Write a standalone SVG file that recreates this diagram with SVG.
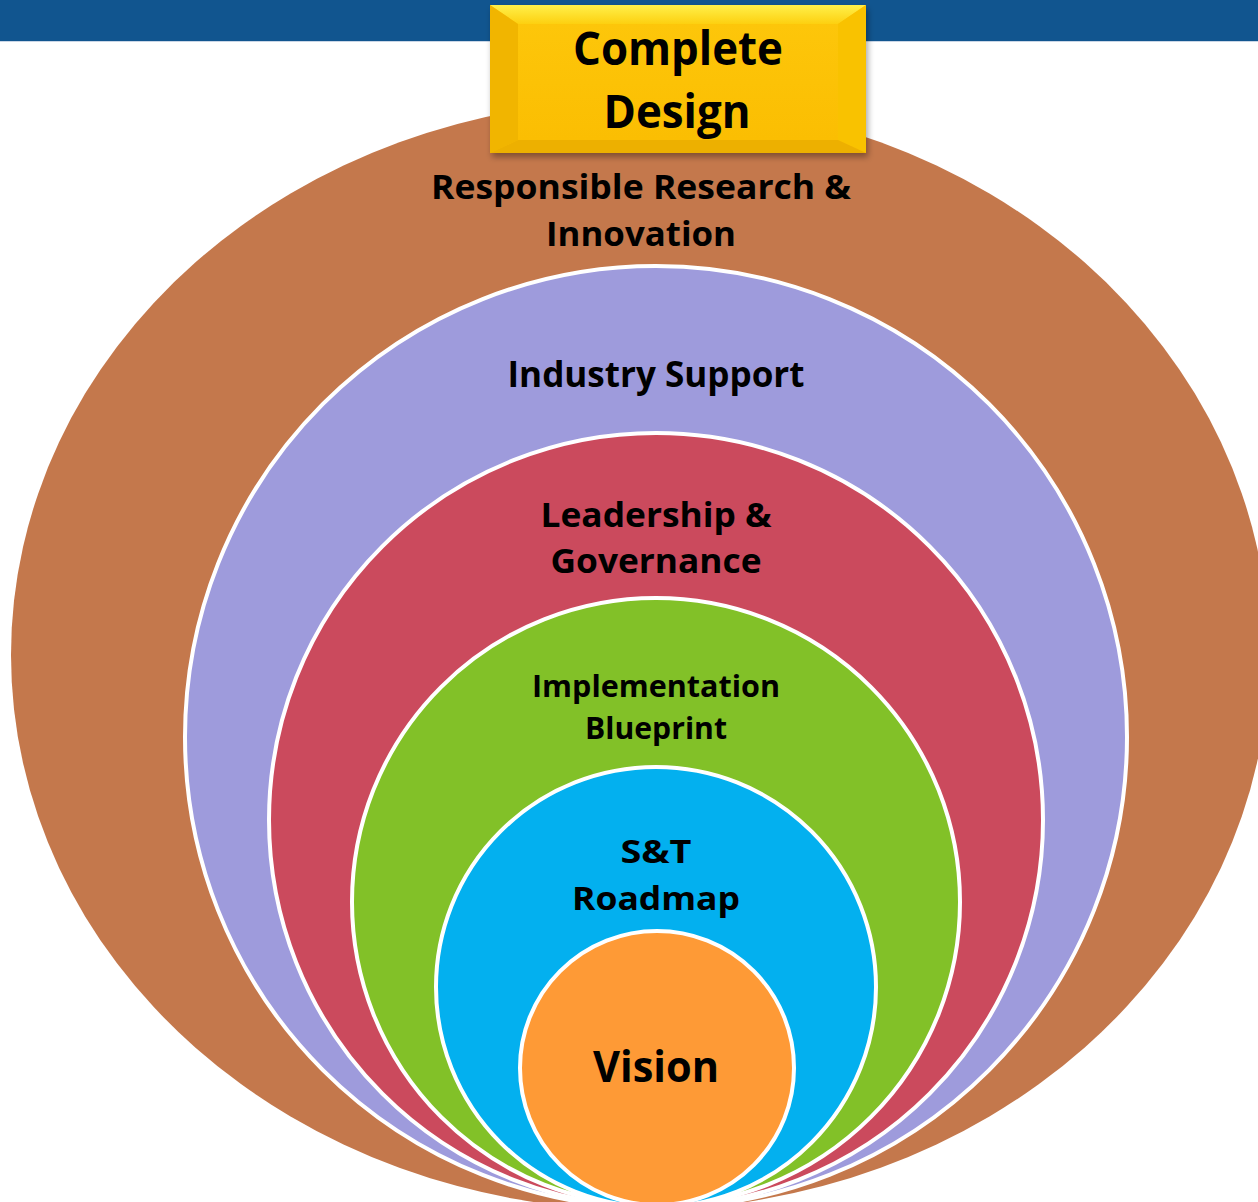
<svg xmlns="http://www.w3.org/2000/svg" width="1258" height="1202" viewBox="0 0 1258 1202">
  <defs>
    <style>
      .lbl { font-family: "Open Sans", "Noto Sans", "Liberation Sans", sans-serif; font-weight: 700; fill: #000; text-anchor: middle; }
      .ring { stroke: #ffffff; stroke-width: 4; }
    </style>
    <filter id="shadow" x="-10%" y="-10%" width="125%" height="130%">
      <feDropShadow dx="2" dy="4" stdDeviation="3" flood-color="#000" flood-opacity="0.35"/>
    </filter>
    <linearGradient id="topBevel" x1="0" y1="0" x2="0" y2="1">
      <stop offset="0" stop-color="#FFF04A"/>
      <stop offset="1" stop-color="#FDD010"/>
    </linearGradient>
    <linearGradient id="face" x1="0" y1="0" x2="0" y2="1">
      <stop offset="0" stop-color="#FDC60A"/>
      <stop offset="1" stop-color="#FBBE02"/>
    </linearGradient>
  </defs>

  <rect x="0" y="0" width="1258" height="1202" fill="#ffffff"/>
  <g id="header-bar">
    <rect x="0" y="0" width="1258" height="41" fill="#11558F"/>
    <rect x="0" y="41" width="1258" height="1" fill="#C9D6E6"/>
  </g>

  <g id="node-rri">
    <ellipse cx="640" cy="655" rx="629" ry="555" fill="#C4784C"/>
  </g>
  <g id="node-industry">
    <circle class="ring" cx="656" cy="737" r="471" fill="#9E9BDC"/>
  </g>
  <g id="node-leadership">
    <circle class="ring" cx="656" cy="820" r="387" fill="#CB4A5D"/>
  </g>
  <g id="node-implementation">
    <circle class="ring" cx="656" cy="902" r="304" fill="#82C128"/>
  </g>
  <g id="node-roadmap">
    <circle class="ring" cx="656" cy="987" r="220" fill="#03B0EF"/>
  </g>
  <g id="node-vision">
    <circle class="ring" cx="657" cy="1068" r="137" fill="#FE9A36"/>
  </g>

  <g id="labels">
    <text class="lbl" x="641" y="199" font-size="34" textLength="420" lengthAdjust="spacingAndGlyphs">Responsible Research &amp;</text>
    <text class="lbl" x="641" y="246" font-size="34" textLength="190" lengthAdjust="spacingAndGlyphs">Innovation</text>
    <text class="lbl" x="656" y="387" font-size="35" textLength="297" lengthAdjust="spacingAndGlyphs">Industry Support</text>
    <text class="lbl" x="656" y="527" font-size="34" textLength="231" lengthAdjust="spacingAndGlyphs">Leadership &amp;</text>
    <text class="lbl" x="656" y="573" font-size="34" textLength="211" lengthAdjust="spacingAndGlyphs">Governance</text>
    <text class="lbl" x="656" y="697" font-size="31" textLength="248" lengthAdjust="spacingAndGlyphs">Implementation</text>
    <text class="lbl" x="656" y="739" font-size="31" textLength="142" lengthAdjust="spacingAndGlyphs">Blueprint</text>
    <text class="lbl" x="656" y="863" font-size="33" textLength="71" lengthAdjust="spacingAndGlyphs">S&amp;T</text>
    <text class="lbl" x="656" y="910" font-size="33" textLength="168" lengthAdjust="spacingAndGlyphs">Roadmap</text>
    <text class="lbl" x="656" y="1082" font-size="43" textLength="126" lengthAdjust="spacingAndGlyphs">Vision</text>
  </g>

  <g id="node-complete-design">
    <g filter="url(#shadow)">
      <rect x="490" y="5" width="376" height="148" fill="url(#face)"/>
    </g>
    <polygon points="490,5 866,5 838,24 518,24" fill="url(#topBevel)"/>
    <polygon points="490,5 518,24 518,140 490,153" fill="#F1B500"/>
    <polygon points="866,5 838,24 838,140 866,153" fill="#F9C200"/>
    <polygon points="490,153 518,140 838,140 866,153" fill="#EDB000"/>
    <rect x="518" y="24" width="320" height="116" fill="url(#face)"/>
    <text class="lbl" x="678" y="65" font-size="46" textLength="210" lengthAdjust="spacingAndGlyphs">Complete</text>
    <text class="lbl" x="677" y="128" font-size="46" textLength="147" lengthAdjust="spacingAndGlyphs">Design</text>
  </g>
</svg>
